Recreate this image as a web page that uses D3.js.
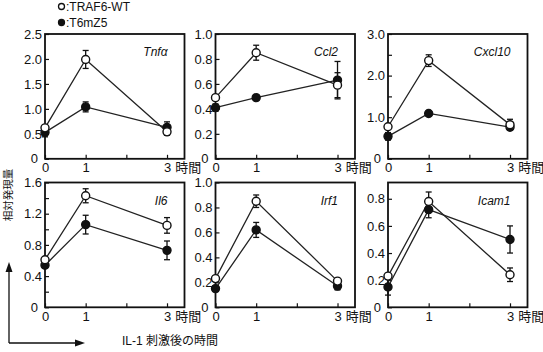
<!DOCTYPE html>
<html>
<head>
<meta charset="utf-8">
<script src="https://cdn.jsdelivr.net/npm/d3@7"></script>
<style>
  body { margin: 0; background: #fff; }
  svg text { font-family: "Liberation Sans", Arial, sans-serif; fill: #111; }
  .jp { font-family: "Noto Sans CJK JP", "Liberation Sans", sans-serif; }
</style>
</head>
<body>
<div id="chart"></div>
<script>
// Time points (hours after IL-1)
const times = [0, 1, 3];
const genes = ["Tnfα", "Ccl2", "Cxcl10", "Il6", "Irf1", "Icam1"];

// TRAF6-WT (open circles)
const wtMean = [
  [0.62, 1.99, 0.54],
  [0.49, 0.85, 0.59],
  [0.77, 2.36, 0.82],
  [0.61, 1.43, 1.05],
  [0.23, 0.85, 0.21],
  [0.23, 0.78, 0.24]
];
const wtErr = [
  [0.05, 0.18, 0.07],
  [0.02, 0.06, 0.10],
  [0.05, 0.14, 0.13],
  [0.03, 0.09, 0.10],
  [0.02, 0.05, 0.02],
  [0.02, 0.07, 0.05]
];

// T6mZ5 (filled circles)
const mzMean = [
  [0.53, 1.04, 0.63],
  [0.41, 0.49, 0.63],
  [0.54, 1.09, 0.76],
  [0.54, 1.06, 0.73],
  [0.15, 0.62, 0.17],
  [0.15, 0.72, 0.50]
];
const mzErr = [
  [0.09, 0.10, 0.11],
  [0.03, 0.02, 0.15],
  [0.09, 0.03, 0.06],
  [0.03, 0.12, 0.12],
  [0.02, 0.06, 0.03],
  [0.06, 0.06, 0.10]
];

// y axis: max, labelled ticks, minor ticks
const yMax = [2.5, 1.0, 3.0, 1.6, 1.0, 0.92];
const yTicks = [
  [0, 0.5, 1.0, 1.5, 2.0, 2.5],
  [0, 0.2, 0.4, 0.6, 0.8, 1.0],
  [0, 1.0, 2.0, 3.0],
  [0, 0.4, 0.8, 1.2, 1.6],
  [0, 0.2, 0.4, 0.6, 0.8, 1.0],
  [0, 0.2, 0.4, 0.6, 0.8]
];
const yMinor = [
  [],
  [],
  [0.5, 1.5, 2.5],
  [0.2, 0.6, 1.0, 1.4],
  [],
  []
];
const xTicks = [0, 1, 2, 3];

const W = 543, H = 352;
const svg = d3.select("#chart").append("svg")
  .attr("width", W).attr("height", H);

const colLeft = [45, 215.5, 388];
const rowTop = [34, 182.5];
const pw = 139.5, ph = 124.8;

const x = d3.scaleLinear().domain([0, 3.43]).range([0, pw]);

genes.forEach((gene, i) => {
  const g = svg.append("g")
    .attr("transform", `translate(${colLeft[i % 3]},${rowTop[Math.floor(i / 3)]})`);
  const y = d3.scaleLinear().domain([0, yMax[i]]).range([ph, 0]);

  // y axis (ticks pointing in)
  const ya = g.append("g")
    .call(d3.axisLeft(y).tickValues(yTicks[i]).tickSizeInner(-4).tickSizeOuter(0).tickPadding(3)
      .tickFormat(d => d === 0 ? "0" : d3.format(".1f")(d)));
  ya.selectAll("text").style("font-size", "13px")
    .attr("dx", d => d === 0 ? "-4" : "0");
  g.append("g")
    .call(d3.axisLeft(y).tickValues(yMinor[i]).tickSizeInner(-4).tickSizeOuter(0).tickFormat(""));

  // x axis
  const xa = g.append("g")
    .attr("transform", `translate(0,${ph})`)
    .call(d3.axisBottom(x).tickValues(xTicks).tickSizeInner(-4).tickSizeOuter(0).tickPadding(4)
      .tickFormat(d => d === 2 ? "" : d3.format("d")(d)));
  xa.selectAll("text").style("font-size", "13px");
  xa.selectAll(".tick").filter(d => d === 3).select("text")
    .attr("text-anchor", "start").attr("x", -3.6)
    .append("tspan").attr("class", "jp").attr("dx", 4).text("時間");

  svg.selectAll(".domain").attr("stroke", "none");
  g.selectAll(".tick line").attr("stroke", "#111").attr("stroke-width", 1.2);

  // frame
  g.append("rect")
    .attr("width", pw).attr("height", ph)
    .attr("fill", "none").attr("stroke", "#111").attr("stroke-width", 1.8);

  // gene name
  g.append("text")
    .attr("x", pw - 17).attr("y", 18)
    .attr("text-anchor", "end").attr("dy", "0.35em")
    .style("font-size", "12px").style("font-style", "italic")
    .text(gene);

  const series = [
    {mean: mzMean[i], err: mzErr[i], fill: "#111"},
    {mean: wtMean[i], err: wtErr[i], fill: "#fff"}
  ];

  const line = d3.line().x((d, j) => x(times[j])).y(d => y(d));

  series.forEach(s => {
    g.append("path")
      .datum(s.mean)
      .attr("d", line)
      .attr("fill", "none").attr("stroke", "#222").attr("stroke-width", 1.3);
  });

  series.forEach(s => {
    s.mean.forEach((v, j) => {
      const cx = x(times[j]);
      const y0 = y(v - s.err[j]), y1 = y(v + s.err[j]);
      g.append("line").attr("x1", cx).attr("x2", cx).attr("y1", y0).attr("y2", y1)
        .attr("stroke", "#111").attr("stroke-width", 1.3);
      [y0, y1].forEach(yy => {
        g.append("line").attr("x1", cx - 3).attr("x2", cx + 3).attr("y1", yy).attr("y2", yy)
          .attr("stroke", "#111").attr("stroke-width", 1.3);
      });
      g.append("circle")
        .attr("cx", cx).attr("cy", y(v)).attr("r", 4)
        .attr("fill", s.fill).attr("stroke", "#111").attr("stroke-width", 1.4);
    });
  });
});

// legend
const legend = [
  {label: ":TRAF6-WT", fill: "#fff"},
  {label: ":T6mZ5", fill: "#111"}
];
legend.forEach((l, k) => {
  svg.append("circle")
    .attr("cx", 61.5).attr("cy", 6.5 + k * 16).attr("r", 3)
    .attr("fill", l.fill).attr("stroke", "#111").attr("stroke-width", 1.3);
  svg.append("text")
    .attr("x", 66).attr("y", 6.5 + k * 16).attr("dy", "0.35em")
    .style("font-size", "12px")
    .text(l.label);
});

// y label and arrows
svg.append("text")
  .attr("class", "jp")
  .attr("transform", "translate(8,195) rotate(-90)")
  .attr("text-anchor", "middle").attr("dy", "0.35em")
  .style("font-size", "10.5px")
  .text("相対発現量");

svg.append("path")
  .attr("d", "M9,343 L9,268 M9,343 L78,343")
  .attr("fill", "none").attr("stroke", "#111").attr("stroke-width", 1.3);
svg.append("path").attr("d", "M9,262 L5.5,272 L12.5,272 Z").attr("fill", "#111");
svg.append("path").attr("d", "M85,343 L75,339.5 L75,346.5 Z").attr("fill", "#111");

svg.append("text")
  .attr("x", 122).attr("y", 341).attr("dy", "0.35em")
  .style("font-size", "12px")
  .text("IL-1 ")
  .append("tspan").attr("class", "jp").text("刺激後の時間");
</script>
</body>
</html>
